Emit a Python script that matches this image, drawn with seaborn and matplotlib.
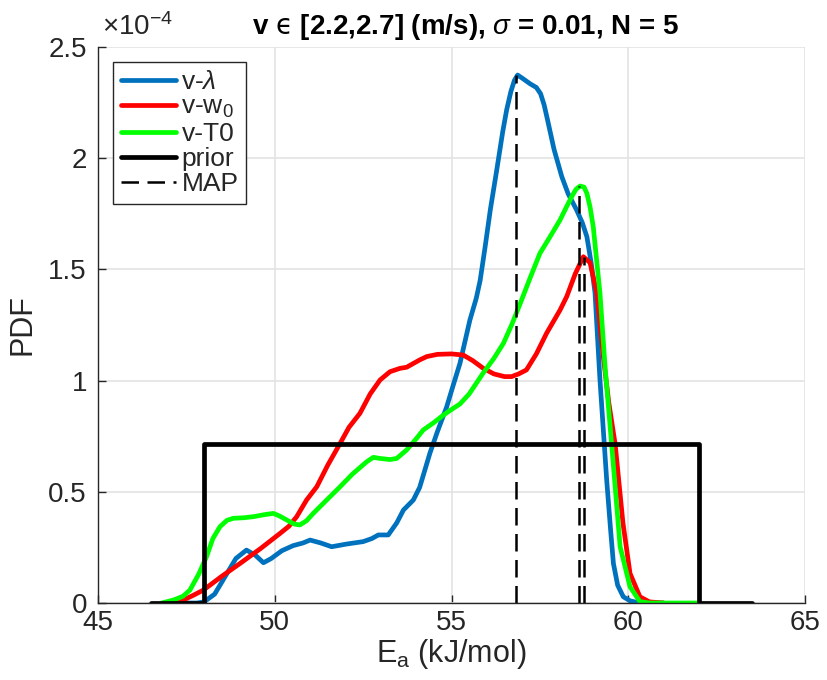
import matplotlib
matplotlib.use("Agg")
import matplotlib.pyplot as plt
import seaborn as sns
import pandas as pd
from matplotlib.lines import Line2D

# ---------------- data (PDF values in units of 1e-4) ----------------
blue_x = [47.5, 47.8, 48.0, 48.3, 48.6, 48.9, 49.2, 49.45, 49.68, 49.9, 50.2, 50.52, 50.8, 51.0,
          51.3, 51.61, 52.03, 52.5, 52.75, 52.93, 53.21, 53.45, 53.64, 53.92, 54.1, 54.39, 54.6,
          54.86, 55.05, 55.24, 55.52, 55.7, 55.81, 55.95, 56.1, 56.28, 56.45, 56.56, 56.68, 56.78,
          56.87, 57.0, 57.22, 57.4, 57.52, 57.62, 57.72, 57.9, 58.12, 58.3, 58.54, 58.7, 58.83,
          58.95, 59.06, 59.2, 59.39, 59.5, 59.58, 59.7, 59.86, 60.05, 60.24, 60.5, 61.0]
blue_y = [0.0, 0.0, 0.005, 0.04, 0.12, 0.2, 0.238, 0.215, 0.181, 0.2, 0.235, 0.258, 0.27, 0.283,
          0.27, 0.253, 0.265, 0.276, 0.29, 0.306, 0.306, 0.36, 0.418, 0.463, 0.52, 0.674, 0.77,
          0.88, 0.98, 1.078, 1.272, 1.37, 1.45, 1.6, 1.77, 1.947, 2.12, 2.217, 2.3, 2.35,
          2.374, 2.36, 2.335, 2.318, 2.29, 2.24, 2.17, 2.04, 1.917, 1.84, 1.767, 1.71, 1.647,
          1.53, 1.394, 1.003, 0.553, 0.33, 0.178, 0.08, 0.028, 0.01, 0.003, 0.0, 0.0]

red_x = [47.0, 47.2, 47.41, 47.7, 47.98, 48.5, 49.02, 49.6, 50.15, 50.4, 50.62, 50.9, 51.19, 51.5,
         51.85, 52.1, 52.41, 52.7, 52.98, 53.26, 53.54, 53.73, 54.1, 54.3, 54.6, 55.0, 55.33, 55.6,
         55.9, 56.2, 56.5, 56.7, 56.9, 57.12, 57.4, 57.69, 58.07, 58.26, 58.5, 58.73, 58.92, 59.11,
         59.3, 59.45, 59.63, 59.85, 60.05, 60.33, 60.6, 61.0]
red_y = [0.0, 0.003, 0.013, 0.035, 0.058, 0.12, 0.178, 0.245, 0.313, 0.345, 0.388, 0.463, 0.523,
         0.62, 0.718, 0.79, 0.853, 0.94, 1.003, 1.04, 1.055, 1.06, 1.093, 1.108, 1.118, 1.12, 1.115,
         1.09, 1.055, 1.03, 1.018, 1.018, 1.03, 1.048, 1.12, 1.213, 1.317, 1.378, 1.48, 1.557, 1.53,
         1.393, 1.1, 0.9, 0.714, 0.36, 0.133, 0.028, 0.005, 0.0]

green_x = [46.8, 47.13, 47.4, 47.6, 47.85, 48.07, 48.25, 48.45, 48.65, 48.83, 49.1, 49.39, 49.7,
           49.96, 50.15, 50.34, 50.55, 50.71, 50.9, 51.09, 51.45, 51.85, 52.2, 52.6, 52.79, 52.98,
           53.26, 53.45, 53.73, 54.01, 54.2, 54.49, 54.77, 55.0, 55.24, 55.5, 55.9, 56.2, 56.47,
           56.7, 56.94, 57.22, 57.5, 57.8, 58.07, 58.25, 58.4, 58.52, 58.64, 58.75, 58.83, 58.92,
           59.01, 59.2, 59.35, 59.53, 59.77, 60.05, 60.33, 60.6, 62.0]
green_y = [0.0, 0.013, 0.03, 0.058, 0.13, 0.208, 0.29, 0.343, 0.372, 0.381, 0.383, 0.388, 0.397,
           0.403, 0.39, 0.373, 0.355, 0.351, 0.37, 0.403, 0.46, 0.523, 0.58, 0.635, 0.655, 0.65,
           0.645, 0.65, 0.688, 0.74, 0.778, 0.81, 0.845, 0.87, 0.895, 0.94, 1.035, 1.1, 1.168,
           1.25, 1.345, 1.46, 1.572, 1.65, 1.722, 1.78, 1.827, 1.86, 1.875, 1.87, 1.842, 1.78,
           1.692, 1.393, 1.05, 0.714, 0.253, 0.073, 0.006, 0.0, 0.0]

prior_x = [46.5, 48.0, 48.0, 62.0, 62.0, 63.5]
prior_y = [0.0, 0.0, 0.714, 0.714, 0.0, 0.0]

map_x = [56.82, 58.60, 58.74]
map_h = [2.374, 1.875, 1.557]

series_labels = [r"v-$\lambda$", r"v-w$_0$", "v-T0", "prior", "MAP"]
x_ticks = [45, 50, 55, 60, 65]
y_ticks = [0, 0.5, 1, 1.5, 2, 2.5]
y_ticklabels = ["0", "0.5", "1", "1.5", "2", "2.5"]

colors = {"blue": "#0072BD", "red": "#FF0000", "green": "#00FF00", "black": "#000000"}

# ---------------- figure ----------------
sns.set_theme(style="whitegrid")
plt.rcParams["font.family"] = ["Liberation Sans", "DejaVu Sans"]
plt.rcParams["mathtext.fontset"] = "custom"
plt.rcParams["mathtext.rm"] = "Liberation Sans"
plt.rcParams["mathtext.it"] = "Liberation Sans:italic"
plt.rcParams["mathtext.sf"] = "DejaVu Sans"

fig = plt.figure(figsize=(8.28, 6.8), dpi=100)
ax = fig.add_axes([98 / 828, 77 / 680, 707 / 828, 556 / 680])
ax.set_facecolor("white")

lw = 3.4
df_b = pd.DataFrame({"x": blue_x, "y": blue_y})
df_r = pd.DataFrame({"x": red_x, "y": red_y})
df_g = pd.DataFrame({"x": green_x, "y": green_y})
df_p = pd.DataFrame({"x": prior_x, "y": prior_y})

sns.lineplot(data=df_b, x="x", y="y", ax=ax, color=colors["blue"], lw=lw, sort=False, estimator=None)
sns.lineplot(data=df_r, x="x", y="y", ax=ax, color=colors["red"], lw=lw, sort=False, estimator=None)
sns.lineplot(data=df_g, x="x", y="y", ax=ax, color=colors["green"], lw=lw, sort=False, estimator=None)
sns.lineplot(data=df_p, x="x", y="y", ax=ax, color=colors["black"], lw=lw, sort=False, estimator=None)

dash = (0, (7.0, 3.4))
for mx, mh in zip(map_x, map_h):
    ax.plot([mx, mx], [0, mh], color="black", lw=1.8, linestyle=dash)

ax.set_xlim(45, 65)
ax.set_ylim(0, 2.5)
ax.set_xticks(x_ticks)
ax.set_xticklabels([str(t) for t in x_ticks])
ax.set_yticks(y_ticks)
ax.set_yticklabels(y_ticklabels)

ax.grid(True, color="#e3e3e3", lw=1.2)
for s in ["top", "right"]:
    ax.spines[s].set_visible(False)
for s in ["left", "bottom"]:
    ax.spines[s].set_visible(True)
    ax.spines[s].set_color("#262626")
    ax.spines[s].set_linewidth(1.0)

ax.tick_params(axis="both", direction="in", length=6, width=1, colors="#262626",
               labelsize=20, labelcolor="#262626")
ax.tick_params(axis="y", left=True, pad=8)
ax.tick_params(axis="x", bottom=True, pad=5)

ax.set_xlabel(r"E$_{\mathregular{a}}$ (kJ/mol)", fontsize=22, color="#262626", labelpad=1)
ax.set_ylabel("PDF", fontsize=22, color="#262626", labelpad=8)
title = ax.set_title("v $\\mathsf{\u03f5}$ [2.2,2.7] (m/s), $\\sigma$ = 0.01, N = 5",
                     fontsize=20, fontweight="bold", color="black", pad=9)
title.set_x(0.52)
ax.text(0.005, 1.01, r"$\times$10$^{-4}$", transform=ax.transAxes, fontsize=20,
        color="#262626", ha="left", va="bottom")

handles = [
    Line2D([], [], color=colors["blue"], lw=lw),
    Line2D([], [], color=colors["red"], lw=lw),
    Line2D([], [], color=colors["green"], lw=lw),
    Line2D([], [], color=colors["black"], lw=lw),
    Line2D([], [], color="black", lw=1.8, linestyle=dash),
]
leg = ax.legend(handles, series_labels, loc="upper left", bbox_to_anchor=(0.021, 0.973),
                fontsize=19, frameon=True, fancybox=False, edgecolor="#262626",
                framealpha=1, handlelength=2.1, handletextpad=0.2, labelspacing=0.05,
                borderpad=0.3, borderaxespad=0.0)
leg.get_frame().set_linewidth(1.0)

fig.savefig("out.png", dpi=100)
